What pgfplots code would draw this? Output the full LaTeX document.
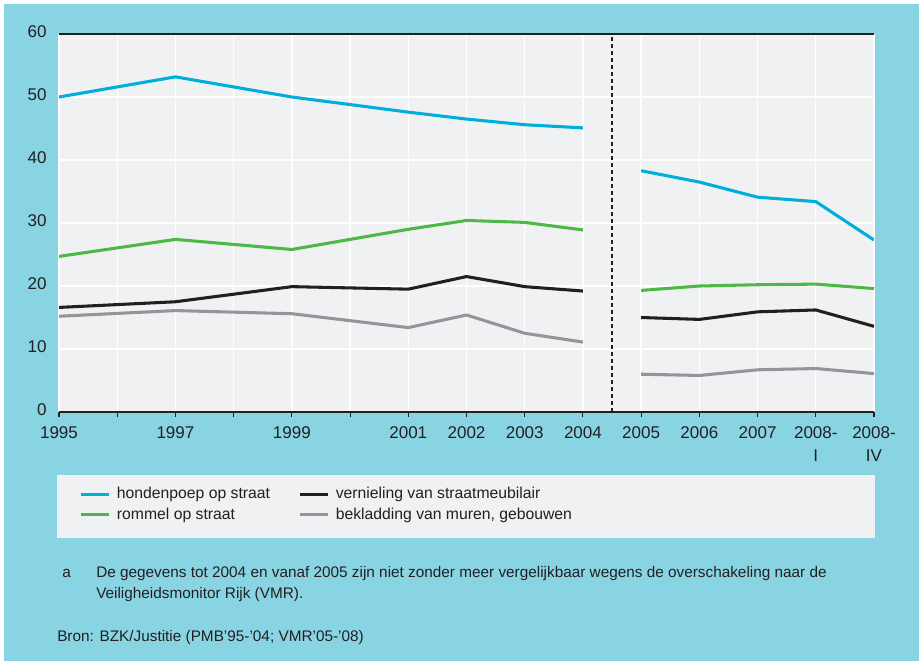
\documentclass[border=0pt]{standalone}
\usepackage{fontspec}
\setmainfont{Liberation Sans}
\usepackage{pgfplots}
\pgfplotsset{compat=1.18}
\definecolor{bgblue}{RGB}{137,212,227}
\definecolor{plotgray}{RGB}{240,241,243}
\definecolor{leggray}{RGB}{240,241,243}
\definecolor{cblue}{RGB}{0,174,219}
\definecolor{cgreen}{RGB}{77,184,72}
\definecolor{cblack}{RGB}{35,31,32}
\definecolor{cgray}{RGB}{147,149,152}
\definecolor{tdark}{RGB}{35,31,32}
\begin{document}
\begin{tikzpicture}
\begin{scope}[x=0.75pt,y=-0.75pt]
\fill[white] (0,0) rectangle (919,661);
\fill[bgblue] (4,4) rectangle (919,661);
\fill[leggray] (57,475) rectangle (875,538);
\end{scope}
\begin{axis}[
  at={(44.25pt,-309pt)}, anchor=south west,
  scale only axis, width=611.25pt, height=283.5pt,
  xmin=0, xmax=14, ymin=0, ymax=60,
  axis background/.style={fill=plotgray},
  axis x line=bottom, axis y line=left,
  x axis line style={-, draw=tdark, line width=1.1pt},
  y axis line style={draw=none},
  grid=major, major grid style={white, line width=1pt},
  xtick={0,...,14},
  xticklabels={1995,,1997,,1999,,2001,2002,2003,2004,2005,2006,2007,{2008-\\I},{2008-\\IV}},
  ytick={0,10,...,60},
  extra y ticks={60}, extra y tick labels={},
  extra y tick style={major grid style={draw=tdark, line width=1.1pt}, major tick length=0pt},
  tick align=outside,
  major tick length=3.75pt,
  x tick style={draw=tdark, line width=0.8pt},
  y tick style={draw=none},
  xticklabel style={align=center, font=\fontsize{12.75}{17.25}\selectfont, text=tdark, yshift=-3.5pt},
  yticklabel style={font=\fontsize{12.75}{15}\selectfont, text=tdark, xshift=-2pt, yshift=2pt},
  /pgf/number format/assume math mode=true,
  legend style={at={(0.0196,-0.185)}, anchor=north west, draw=none, fill=none,
    font=\fontsize{11.8}{14}\selectfont, text=tdark, row sep=1pt,
    /tikz/column 1/.style={column sep=3pt},
    /tikz/column 2/.style={column sep=19pt},
    /tikz/column 3/.style={column sep=3pt}},
  legend columns=2, legend cell align=left,
  legend image code/.code={\draw[#1] (0pt,0pt) -- (21pt,0pt);},
  every axis plot/.append style={line width=2.3pt, line join=round},
]
\addplot[cblue] coordinates {(0,50.0)(2,53.2)(4,50.0)(6,47.6)(7,46.5)(8,45.6)(9,45.1)};
\addlegendentry{hondenpoep op straat}
\addplot[cblack] coordinates {(0,16.6)(2,17.5)(4,19.9)(6,19.5)(7,21.5)(8,19.9)(9,19.2)};
\addlegendentry{vernieling van straatmeubilair}
\addplot[cgreen] coordinates {(0,24.7)(2,27.4)(4,25.8)(6,29.0)(7,30.4)(8,30.1)(9,28.9)};
\addlegendentry{rommel op straat}
\addplot[cgray] coordinates {(0,15.2)(2,16.1)(4,15.6)(6,13.4)(7,15.4)(8,12.5)(9,11.1)};
\addlegendentry{bekladding van muren, gebouwen}
\addplot[cblue, forget plot] coordinates {(10,38.3)(11,36.5)(12,34.1)(13,33.4)(14,27.3)};
\addplot[cgreen, forget plot] coordinates {(10,19.3)(11,20.0)(12,20.2)(13,20.3)(14,19.6)};
\addplot[cblack, forget plot] coordinates {(10,15.0)(11,14.7)(12,15.9)(13,16.2)(14,13.6)};
\addplot[cgray, forget plot] coordinates {(10,6.0)(11,5.8)(12,6.7)(13,6.9)(14,6.1)};
\addplot[tdark, line width=1.1pt, dash pattern=on 3pt off 2.25pt, forget plot] coordinates {(9.5,0)(9.5,60)};
\end{axis}
\begin{scope}[x=0.75pt,y=-0.75pt, every node/.style={inner sep=0pt, anchor=base west, text=tdark, font=\fontsize{11.5}{14}\selectfont}]
\node at (62,577) {a};
\node at (96,577) {De gegevens tot 2004 en vanaf 2005 zijn niet zonder meer vergelijkbaar wegens de overschakeling naar de};
\node at (96,598) {Veiligheidsmonitor Rijk (VMR).};
\node at (57,641) {Bron: BZK/Justitie (PMB'95-'04; VMR'05-'08)};
\end{scope}
\end{tikzpicture}
\end{document}
